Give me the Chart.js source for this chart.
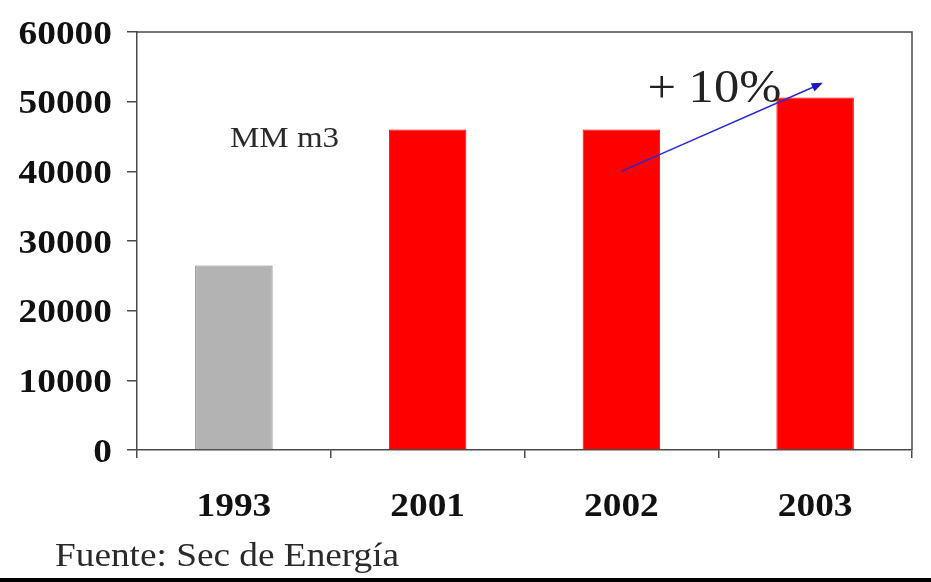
<!DOCTYPE html>
<html>
<head>
<meta charset="utf-8">
<script src="https://cdn.jsdelivr.net/npm/chart.js@4/dist/chart.umd.min.js"></script>
<style>
  html, body { margin: 0; padding: 0; background: #fff; }
  #wrap { position: relative; width: 931px; height: 582px; }
  canvas { display: block; }
</style>
</head>
<body>
<div id="wrap"><canvas id="c" width="931" height="582"></canvas></div>
<script>
// Gas production (millions of cubic metres) by year
const years = ['1993', '2001', '2002', '2003'];
const production = [26500, 46000, 46000, 50600];
const barColors = ['#b3b3b3', '#ff0000', '#ff0000', '#ff0000'];
const barBorders = ['#808080', '#ff0000', '#ff0000', '#ff0000'];
const yTicks = [0, 10000, 20000, 30000, 40000, 50000, 60000];

// Growth arrow from 2002 to 2003 (category index, value)
const arrowStart = [2, 40000];
const arrowEnd = [3.04, 52700];
const growthLabel = '+ 10%';
const growthLabelAt = [2.48, 50000];
const unitLabel = 'MM m3';
const unitLabelAt = [-0.02, 43500];
const sourceText = 'Fuente: Sec de Energía';

const SERIF = '"Liberation Serif", "Times New Roman", serif';
const AXIS = '#4a4a4a';
const WIDEN = 1.1; // the slide's lettering is set slightly wide

function wideText(ctx, text, x, y, align, widen) {
  ctx.save();
  ctx.translate(x, y);
  ctx.scale(widen || WIDEN, 1);
  ctx.textAlign = align;
  ctx.fillText(text, 0, 0);
  ctx.restore();
}

const decorations = {
  id: 'decorations',
  afterDatasetsDraw(chart) {
    const { ctx, chartArea: a, scales: { x, y } } = chart;
    ctx.save();
    // top and right frame of the plot area
    ctx.strokeStyle = AXIS;
    ctx.lineWidth = 1.5;
    ctx.beginPath();
    ctx.moveTo(a.left, a.top);
    ctx.lineTo(a.right, a.top);
    ctx.lineTo(a.right, a.bottom);
    ctx.stroke();

    // axis tick labels
    ctx.fillStyle = '#111';
    ctx.font = 'bold 34px ' + SERIF;
    ctx.textBaseline = 'middle';
    y.ticks.forEach(t => wideText(ctx, String(t.value), 112, y.getPixelForValue(t.value) + 3, 'right'));
    years.forEach((lab, i) => wideText(ctx, lab, x.getPixelForValue(i), 507, 'center'));

    ctx.textBaseline = 'alphabetic';
    // unit label
    ctx.fillStyle = '#2a2a2a';
    ctx.font = '30px ' + SERIF;
    wideText(ctx, unitLabel, x.getPixelForValue(unitLabelAt[0]), y.getPixelForValue(unitLabelAt[1]), 'left');

    // growth label
    ctx.fillStyle = '#222';
    ctx.font = '46px ' + SERIF;
    wideText(ctx, growthLabel, x.getPixelForValue(growthLabelAt[0]), y.getPixelForValue(growthLabelAt[1]), 'center');

    // growth arrow
    const x0 = x.getPixelForValue(arrowStart[0]), y0 = y.getPixelForValue(arrowStart[1]);
    const x1 = x.getPixelForValue(arrowEnd[0]), y1 = y.getPixelForValue(arrowEnd[1]);
    const ang = Math.atan2(y1 - y0, x1 - x0);
    const head = 12, spread = 0.38;
    ctx.strokeStyle = '#2a2ad0';
    ctx.fillStyle = '#1a1ab8';
    ctx.lineWidth = 1.5;
    ctx.beginPath();
    ctx.moveTo(x0, y0);
    ctx.lineTo(x1 - Math.cos(ang) * head * 0.8, y1 - Math.sin(ang) * head * 0.8);
    ctx.stroke();
    ctx.beginPath();
    ctx.moveTo(x1, y1);
    ctx.lineTo(x1 - head * Math.cos(ang - spread), y1 - head * Math.sin(ang - spread));
    ctx.lineTo(x1 - head * Math.cos(ang + spread), y1 - head * Math.sin(ang + spread));
    ctx.closePath();
    ctx.fill();

    // source note and bottom rule
    ctx.fillStyle = '#2a2a2a';
    ctx.font = '33px ' + SERIF;
    wideText(ctx, sourceText, 55, 566, 'left', 1.13);
    ctx.fillStyle = '#000';
    ctx.fillRect(0, 578, chart.width, 4);
    ctx.restore();
  }
};

new Chart(document.getElementById('c'), {
  type: 'bar',
  data: {
    labels: years,
    datasets: [{
      data: production,
      backgroundColor: barColors,
      borderColor: barBorders,
      borderWidth: 1,
      categoryPercentage: 1,
      barPercentage: 0.4
    }]
  },
  options: {
    responsive: false,
    animation: false,
    events: [],
    layout: { padding: { left: 0, top: 32, right: 19, bottom: 0 } },
    plugins: { legend: { display: false }, tooltip: { enabled: false } },
    scales: {
      x: {
        offset: true,
        grid: { drawOnChartArea: false, offset: true, color: AXIS, tickLength: 8, lineWidth: 1.5 },
        border: { color: AXIS, width: 1.5 },
        ticks: { display: false },
        afterFit(s) { s.height = 132; }
      },
      y: {
        min: 0,
        max: 60000,
        afterBuildTicks(s) { s.ticks = yTicks.map(v => ({ value: v })); },
        grid: { drawOnChartArea: false, color: AXIS, tickLength: 10, lineWidth: 1.5 },
        border: { color: AXIS, width: 1.5 },
        ticks: { display: false },
        afterFit(s) { s.width = 137; }
      }
    }
  },
  plugins: [decorations]
});
</script>
</body>
</html>
